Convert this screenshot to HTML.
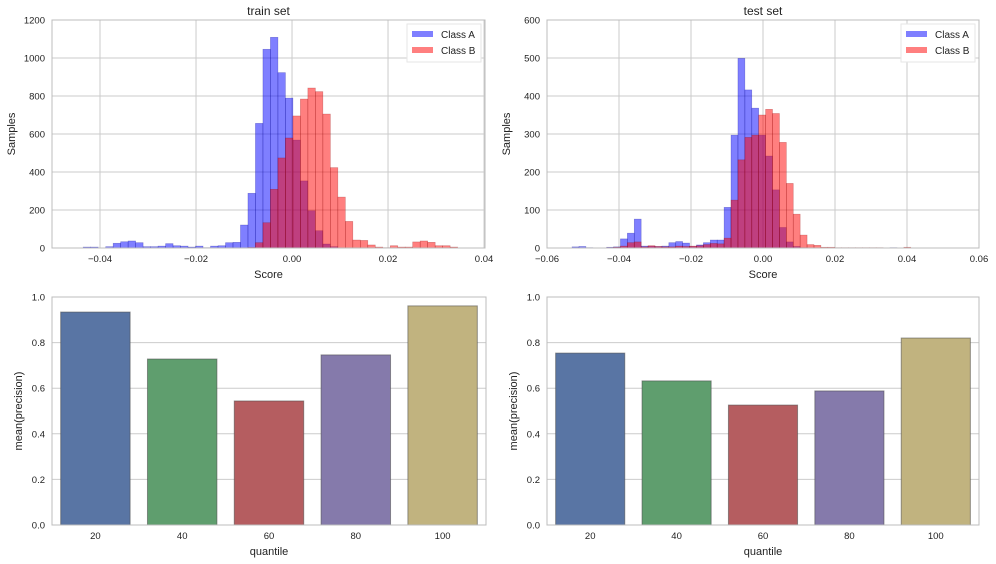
<!DOCTYPE html>
<html><head><meta charset="utf-8">
<style>
html,body{margin:0;padding:0;background:#fff;}
svg{display:block;font-family:"Liberation Sans",sans-serif;}
</style></head>
<body>
<svg id="fig" width="996" height="564" viewBox="0 0 996 564"></svg>
<script>
// ---- train histogram data ----
const trainBinStart = -0.0435;
const trainBinWidth = 0.00156;
const trainA = [5,5,0,7,25,33,37,28,7,7,10,23,12,10,5,10,2,10,12,28,30,121,288,656,1046,1109,923,789,568,353,196,91,21,7,0,0,0,0,0,0,0,0,0,0,0,0,0,0,0,0];
const trainB = [0,0,0,0,0,0,0,0,0,0,0,0,0,0,0,0,0,0,0,0,0,0,3,28,133,309,474,579,695,784,842,823,705,423,268,140,42,40,16,5,2,12,5,5,32,37,30,12,12,5];
// ---- test histogram data ----
const testBinStart = -0.05304;
const testBinWidth = 0.00192;
const testA = [3,4,1,0,0,2,3,24,39,76,5,5,4,5,14,17,13,4,8,14,21,21,107,297,499,416,368,297,242,153,54,16,4,1,0,0,0,0,0,0,0,0,0,0,0,0,1,0,0];
const testB = [0,0,0,0,0,1,2,5,14,16,3,6,4,3,3,5,4,5,6,9,12,11,26,126,232,291,297,350,365,354,278,170,89,34,9,7,2,2,1,1,1,1,1,1,1,0,0,0,2];
// ---- bar data ----
const quantiles = ["20","40","60","80","100"];
const trainPrecision = [0.934,0.728,0.544,0.746,0.961];
const testPrecision = [0.754,0.632,0.526,0.588,0.82];
const trainXTicks = [-0.04,-0.02,0.00,0.02,0.04];
const testXTicks = [-0.06,-0.04,-0.02,0.00,0.02,0.04,0.06];
const trainYTicks = [0,200,400,600,800,1000,1200];
const testYTicks = [0,100,200,300,400,500,600];
const barYTicks = [0,0.2,0.4,0.6,0.8,1.0];

const NS = "http://www.w3.org/2000/svg";
const svg = document.getElementById("fig");
function mk(tag, attrs, parent, text){
  const e = document.createElementNS(NS, tag);
  for (const k in attrs) e.setAttribute(k, attrs[k]);
  if (text !== undefined) e.textContent = text;
  (parent || svg).appendChild(e);
  return e;
}
function fmt(v, d){ const s = v.toFixed(d); return v < 0 ? "\u2212" + s.slice(1) : s; }

function axesBox(g, x0, y0, x1, y1){
  const r = mk("rect", {x:x0, y:y0, width:x1-x0, height:y1-y0, fill:"none", stroke:"#bcbcbc", "stroke-width":1}, g);
  
  
}

function hist(name, px0, py0, px1, py1, xmin, xmax, ymax, xTicks, yTicks, start, width, A, B, title){
  const g = mk("g", {}, svg);
  
  
  const sx = v => px0 + (v - xmin) / (xmax - xmin) * (px1 - px0);
  const sy = v => py1 - v / ymax * (py1 - py0);
  mk("rect", {x:px0, y:py0, width:px1-px0, height:py1-py0, fill:"#fff"}, g);
  xTicks.forEach(t => {
    const l = mk("line", {x1:sx(t), x2:sx(t), y1:py0, y2:py1, stroke:"#cbcbcb", "stroke-width":1}, g);
    
    
    const tx = mk("text", {x:sx(t), y:py1+14, "text-anchor":"middle", "font-size":9.5, fill:"#222"}, g, fmt(t, 2));
    
    
  });
  yTicks.forEach(t => {
    const l = mk("line", {x1:px0, x2:px1, y1:sy(t), y2:sy(t), stroke:"#cbcbcb", "stroke-width":1}, g);
    
    
    const tx = mk("text", {x:px0-7, y:sy(t)+3.5, "text-anchor":"end", "font-size":9.5, fill:"#222"}, g, String(t));
    
    
  });
  [[A, "rgba(0,0,255,0.5)", "rgba(0,0,140,0.35)", "class-a-bar"], [B, "rgba(255,0,0,0.5)", "rgba(140,0,0,0.35)", "class-b-bar"]].forEach(([arr, fill, stroke, nm]) => {
    arr.forEach((v, i) => {
      if (v <= 0) return;
      const xa = sx(start + i * width), xb = sx(start + (i + 1) * width);
      const r = mk("rect", {x:xa, y:sy(v), width:xb-xa, height:py1-sy(v), fill:fill, stroke:stroke, "stroke-width":0.6}, g);
      
      
    });
  });
  axesBox(g, px0, py0, px1, py1);
  const t = mk("text", {x:(px0+px1)/2, y:py0-5, "text-anchor":"middle", "font-size":12, fill:"#222"}, g, title);
  
  
  const xl = mk("text", {x:(px0+px1)/2, y:py1+30, "text-anchor":"middle", "font-size":11, fill:"#222"}, g, "Score");
  
  
  const yc = (py0+py1)/2;
  const yl = mk("text", {x:px0-37, y:yc, "text-anchor":"middle", "font-size":11, fill:"#222", transform:`rotate(-90 ${px0-37} ${yc})`}, g, "Samples");
  
  
  // legend
  const lg = mk("g", {}, g);
  
  
  const lx = px1 - 78;
  mk("rect", {x:lx, y:py0+4, width:74, height:38, fill:"#fff", stroke:"#e6e6e6", "stroke-width":1}, lg);
  [["Class A","rgba(0,0,255,0.5)"],["Class B","rgba(255,0,0,0.5)"]].forEach(([lab, c], i) => {
    const e = mk("g", {}, lg);
    
    
    mk("rect", {x:lx+5, y:py0+11+i*16, width:21, height:6, fill:c}, e);
    mk("text", {x:lx+34, y:py0+18+i*16, "font-size":10, fill:"#222"}, e, lab);
  });
}

function bars(name, px0, py0, px1, py1, vals){
  const g = mk("g", {}, svg);
  
  
  const sy = v => py1 - v / 1.0 * (py1 - py0);
  const band = (px1 - px0) / quantiles.length;
  barYTicks.forEach(t => {
    const l = mk("line", {x1:px0, x2:px1, y1:sy(t), y2:sy(t), stroke:"#cbcbcb", "stroke-width":1}, g);
    
    
    const tx = mk("text", {x:px0-7, y:sy(t)+3.5, "text-anchor":"end", "font-size":9.5, fill:"#222"}, g, t.toFixed(1));
    
    
  });
  const colors = ["#5975a4","#5f9e6e","#b55d60","#857aab","#c1b37f"];
  vals.forEach((v, i) => {
    const cx = px0 + band * (i + 0.5);
    const w = band * 0.8;
    const r = mk("rect", {x:cx-w/2, y:sy(v), width:w, height:sy(0)-sy(v), fill:colors[i], stroke:"#4a4a4a", "stroke-opacity":0.55, "stroke-width":1}, g);
    
    
    const tx = mk("text", {x:cx, y:py1+14, "text-anchor":"middle", "font-size":9.5, fill:"#222"}, g, quantiles[i]);
    
    
  });
  axesBox(g, px0, py0, px1, py1);
  const xl = mk("text", {x:(px0+px1)/2, y:py1+30, "text-anchor":"middle", "font-size":11, fill:"#222"}, g, "quantile");
  
  
  const yc = (py0+py1)/2;
  const yl = mk("text", {x:px0-30, y:yc, "text-anchor":"middle", "font-size":11, fill:"#222", transform:`rotate(-90 ${px0-30} ${yc})`}, g, "mean(precision)");
  
  
}

hist("train-histogram", 52, 20, 485, 248, -0.05, 0.0402, 1200, trainXTicks, trainYTicks, trainBinStart, trainBinWidth, trainA, trainB, "train set");
hist("test-histogram", 547, 20, 979, 248, -0.06, 0.06, 600, testXTicks, testYTicks, testBinStart, testBinWidth, testA, testB, "test set");
bars("train-precision-bars", 52, 297, 486, 525, trainPrecision);
bars("test-precision-bars", 547, 297, 979, 525, testPrecision);
</script>
</body></html>
